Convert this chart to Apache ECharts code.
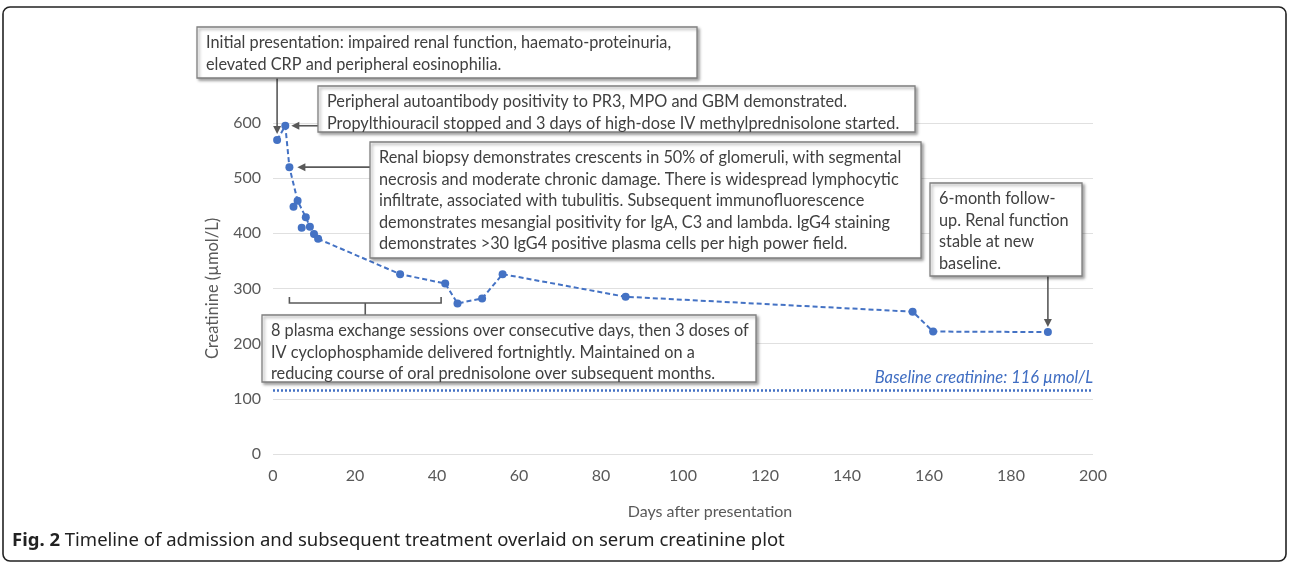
<!DOCTYPE html>
<html>
<head>
<meta charset="utf-8">
<script src="https://cdn.jsdelivr.net/npm/echarts@6/dist/echarts.min.js"></script>
<style>
html,body{margin:0;padding:0;background:#fff;}
#chart{width:1290px;height:565px;}
</style>
</head>
<body>
<div id="chart"></div>
<script>
// ---- data ----
const days = [1, 3, 4, 6, 8, 9, 10, 11, 31, 42, 45, 51, 56, 86, 156, 161, 189];
const creatinine = [569, 595, 520, 459, 429, 412, 399, 390, 326, 309, 273, 282, 326, 285, 258, 222, 221];
const extraDays = [5, 7];
const extraCreatinine = [448, 410];
const baselineCreatinine = 116;
const xTicks = [0, 20, 40, 60, 80, 100, 120, 140, 160, 180, 200];
const yTicks = [0, 100, 200, 300, 400, 500, 600];

const note1 = 'Initial presentation: impaired renal function, haemato-proteinuria,\nelevated CRP and peripheral eosinophilia.';
const note2 = 'Peripheral autoantibody positivity to PR3, MPO and GBM demonstrated.\nPropylthiouracil stopped and 3 days of high-dose IV methylprednisolone started.';
const note3 = 'Renal biopsy demonstrates crescents in 50% of glomeruli, with segmental\nnecrosis and moderate chronic damage. There is widespread lymphocytic\ninfiltrate, associated with tubulitis. Subsequent immunofluorescence\ndemonstrates mesangial positivity for IgA, C3 and lambda. IgG4 staining\ndemonstrates >30 IgG4 positive plasma cells per high power field.';
const note4 = '6-month follow-\nup. Renal function\nstable at new\nbaseline.';
const note5 = '8 plasma exchange sessions over consecutive days, then 3 doses of\nIV cyclophosphamide delivered fortnightly. Maintained on a\nreducing course of oral prednisolone over subsequent months.';
const bracketDays = [4, 41];
const caption = 'Timeline of admission and subsequent treatment overlaid on serum creatinine plot';

const mainData = days.map((d, i) => [d, creatinine[i]]);
const extraData = extraDays.map((d, i) => [d, extraCreatinine[i]]);

const BLUE = '#4472C4';
const GREY = '#595959';
const FONT = 'Lato, "Noto Sans", sans-serif';

const chart = echarts.init(document.getElementById('chart'));
chart.setOption({
  animation: false,
  backgroundColor: '#fff',
  grid: { left: 273, right: 197, top: 123, bottom: 111 },
  xAxis: {
    type: 'value', min: xTicks[0], max: xTicks[xTicks.length - 1], interval: 20,
    name: 'Days after presentation', nameLocation: 'middle', nameGap: 50,
    nameTextStyle: { color: GREY, fontSize: 16, fontFamily: FONT, padding: [0, 0, 0, 54] },
    axisLine: { show: false }, axisTick: { show: false },
    splitLine: { show: false },
    axisLabel: { color: GREY, fontSize: 16, fontFamily: FONT, margin: 14 }
  },
  yAxis: {
    type: 'value', min: yTicks[0], max: yTicks[yTicks.length - 1], interval: 100,
    name: 'Creatinine (µmol/L)', nameLocation: 'middle', nameGap: 52,
    nameTextStyle: { color: GREY, fontSize: 16.5, fontFamily: FONT },
    axisLine: { show: false }, axisTick: { show: false },
    splitLine: { show: true, lineStyle: { color: '#e0e0e0', width: 1 } },
    axisLabel: { color: GREY, fontSize: 16, fontFamily: FONT, margin: 12 }
  },
  series: [
    {
      type: 'line', data: mainData, symbol: 'circle', symbolSize: 8,
      itemStyle: { color: BLUE },
      lineStyle: { color: BLUE, width: 2, type: [5, 3] },
      markLine: {
        silent: true, symbol: 'none',
        lineStyle: { color: BLUE, width: 2.5, type: [2, 2] },
        label: {
          show: true, position: 'insideEndTop', formatter: 'Baseline creatinine: 116 µmol/L',
          color: '#3f6dc2', fontStyle: 'italic', fontSize: 16.5, fontFamily: FONT, distance: [0, 4]
        },
        data: [{ yAxis: baselineCreatinine }]
      }
    },
    {
      type: 'scatter', data: extraData, symbol: 'circle', symbolSize: 8,
      itemStyle: { color: BLUE, opacity: 1 }
    }
  ]
});

function px(d, v) { return chart.convertToPixel({ gridIndex: 0 }, [d, v]); }

const boxStyle = { fill: '#fff', stroke: '#7f7f7f', lineWidth: 1.3, shadowBlur: 3, shadowOffsetX: 2, shadowOffsetY: 2, shadowColor: 'rgba(0,0,0,0.35)' };
const txtFont = '16.3px ' + FONT;
function box(x, y, w, h, text) {
  return {
    type: 'group', children: [
      { type: 'rect', shape: { x: x, y: y, width: w, height: h }, style: boxStyle, z: 10 },
      { type: 'text', z: 11, style: { x: x + 9, y: y + 5, text: text, font: txtFont, fill: '#404040', lineHeight: 21.5, verticalAlign: 'top' } }
    ]
  };
}
function arrowDown(x, y1, y2) {
  return [
    { type: 'line', z: 9, shape: { x1: x, y1: y1, x2: x, y2: y2 - 6 }, style: { stroke: GREY, lineWidth: 1.6 } },
    { type: 'polygon', z: 9, shape: { points: [[x - 4, y2 - 8], [x + 4, y2 - 8], [x, y2]] }, style: { fill: GREY } }
  ];
}
function arrowLeft(x1, x2, y) {
  return [
    { type: 'line', z: 9, shape: { x1: x1, y1: y, x2: x2 + 6, y2: y }, style: { stroke: GREY, lineWidth: 1.6 } },
    { type: 'polygon', z: 9, shape: { points: [[x2 + 8, y - 4], [x2 + 8, y + 4], [x2, y]] }, style: { fill: GREY } }
  ];
}

const p0 = px(days[0], creatinine[0]);
const p1 = px(days[1], creatinine[1]);
const p2 = px(days[2], creatinine[2]);
const pLast = px(days[days.length - 1], creatinine[creatinine.length - 1]);
const bL = px(bracketDays[0], 0)[0], bR = px(bracketDays[1], 0)[0];
const bMid = (bL + bR) / 2;
const bY = 303;

let g = [];
g.push({ type: 'rect', shape: { x: 3, y: 7, width: 1283, height: 554, r: 7 }, style: { fill: 'none', stroke: '#222', lineWidth: 1.6 }, z: 20 });
g = g.concat(arrowDown(p0[0], 78, p0[1] - 6));
g = g.concat(arrowLeft(318, p1[0] + 6, p1[1]));
g = g.concat(arrowLeft(370, p2[0] + 8, p2[1]));
g = g.concat(arrowDown(pLast[0], 276, pLast[1] - 5));
g.push({ type: 'polyline', z: 9, shape: { points: [[bL, bY - 6], [bL, bY], [bR, bY], [bR, bY - 6]] }, style: { stroke: GREY, lineWidth: 1.6, fill: 'none' } });
g.push({ type: 'line', z: 9, shape: { x1: bMid, y1: bY, x2: bMid, y2: 315 }, style: { stroke: GREY, lineWidth: 1.6 } });
g.push(box(197, 27, 500, 51, note1));
g.push(box(318, 86, 597, 46, note2));
g.push(box(370, 142, 551, 116, note3));
g.push(box(930, 183, 152, 93, note4));
g.push(box(262, 315, 494, 67, note5));
g.push({
  type: 'text', z: 21,
  style: {
    x: 12, y: 541, verticalAlign: 'middle',
    text: '{b|Fig. 2} ' + caption,
    font: '18.5px "Noto Sans", sans-serif', fill: '#222',
    rich: { b: { fontWeight: 'bold', fontSize: 18.5, fontFamily: '"Noto Sans", sans-serif', fill: '#222' } }
  }
});
chart.setOption({ graphic: g });
</script>
</body>
</html>
